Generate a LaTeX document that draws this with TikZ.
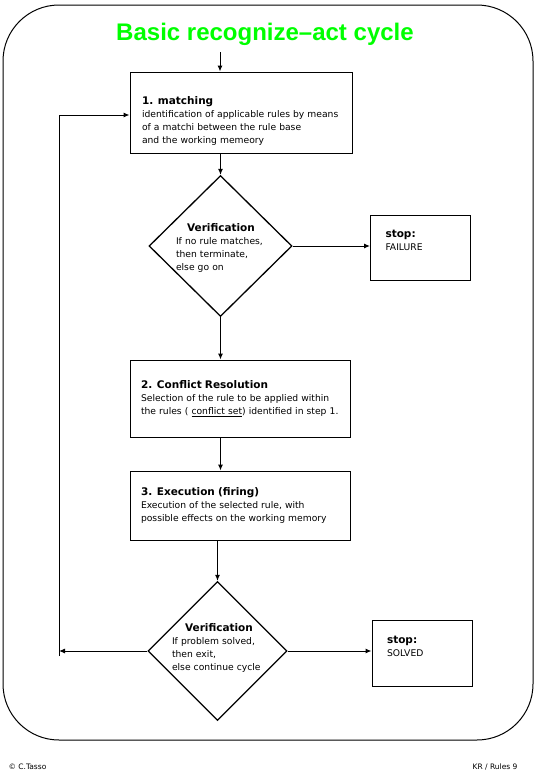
\documentclass[tikz,border=0pt]{standalone}
\usepackage{fontspec}
\setmainfont{DejaVu Sans}
\newfontfamily\headfont{Liberation Sans}
\usepackage{xcolor}
\usetikzlibrary{arrows.meta,positioning,shapes.geometric}
\definecolor{TitleGreen}{HTML}{00FF00}
\newcommand{\boxhead}[1]{\textbf{\fontsize{10.5}{15}\selectfont #1}}

\begin{document}
\begin{tikzpicture}[
  x=1pt,y=-1pt,
  font=\fontsize{9.2}{13}\selectfont,
  procbox/.style={draw,line width=1pt,text width=198pt,inner xsep=11pt,inner ysep=0pt,align=left},
  stopbox/.style={draw,line width=1pt,text width=70pt,inner xsep=15pt,inner ysep=0pt,align=left,text depth=27pt},
  decision/.style={draw,diamond,line width=1.3pt,inner sep=0pt,minimum width=143pt,minimum height=141pt},
  dtext/.style={text width=98pt,align=left,inner sep=0pt},
  flow/.style={-{Latex[length=6pt,width=5pt]},line width=1pt}
]
  \useasboundingbox (0,0) rectangle (536,779);
  \draw[line width=1pt,rounded corners=56pt] (3,5) rectangle (533,740);

  \node[font=\headfont\fontsize{24}{28}\selectfont\bfseries,text=TitleGreen] (title) at (265,34) {Basic recognize–act cycle};
  \coordinate (entry) at (220,52);

  \node[procbox,minimum height=81pt,text height=24pt,inner xsep=12pt] (match) at (241,112.5)
    {\boxhead{1. matching}\\
     identification of applicable rules by means\\
     of a matchi between the rule base\\
     and the working memeory};

  \node[decision] (check1) at (220.5,246) {};
  \node[dtext] (check1txt) at (225,248)
    {\makebox[\linewidth][c]{\boxhead{Verification}\hspace*{8pt}}\\
     If no rule matches,\\
     then terminate,\\
     else go on};

  \node[stopbox,minimum height=65pt] (failure) at (420.5,247.5)
    {\boxhead{stop:}\\FAILURE};

  \node[procbox,minimum height=77pt] (resolve) at (240,398.5)
    {\boxhead{2. Conflict Resolution}\\
     Selection of the rule to be applied within\\
     the rules ( \underline{conflict set}) identified in step 1.};

  \node[procbox,minimum height=69pt] (fire) at (240,505.5)
    {\boxhead{3. Execution (firing)}\\
     Execution of the selected rule, with\\
     possible effects on the working memory};

  \node[decision,minimum height=139pt,minimum width=139pt] (check2) at (217.5,651) {};
  \node[dtext] (check2txt) at (221,648)
    {\makebox[\linewidth][c]{\boxhead{Verification}\hspace*{4pt}}\\
     If problem solved,\\
     then exit,\\
     else continue cycle};

  \node[stopbox,minimum height=66pt] (solved) at (422,653)
    {\boxhead{stop:}\\SOLVED};

  \coordinate (loopdown) at (59,651);
  \coordinate (loopup) at (59,115);

  \node[anchor=west,font=\fontsize{7.5}{8}\selectfont] (copy) at (5,767) {© C.Tasso};
  \node[anchor=east,font=\fontsize{7.5}{8}\selectfont] (page) at (521,767) {KR / Rules 9};

  \draw[flow] (entry) -- (entry |- match.north);
  \draw[flow] (check1.north |- match.south) -- (check1.north);
  \draw[flow] (check1.east) -- (check1.east -| failure.west);
  \draw[flow] (check1.south) -- (check1.south |- resolve.north);
  \draw[flow] (check1.south |- resolve.south) -- (check1.south |- fire.north);
  \draw[flow] (check2.north |- fire.south) -- (check2.north);
  \draw[flow] (check2.east) -- (check2.east -| solved.west);
  \draw[flow] (check2.west) -- (loopdown);
  \draw[flow] ([yshift=-5pt]loopdown) -- (loopup) -- (loopup -| match.west);
\end{tikzpicture}
\end{document}
